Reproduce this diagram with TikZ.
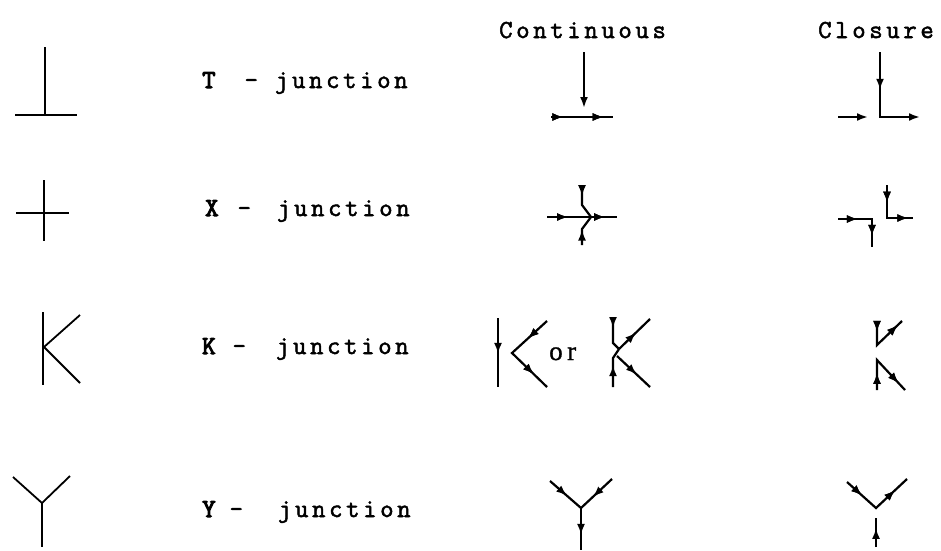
\documentclass[tikz,border=0pt]{standalone}
\usepackage{fontspec}
\usetikzlibrary{arrows.meta,decorations.markings}
\newfontfamily\labfont[LetterSpace=14,FakeBold=2]{Latin Modern Mono}
\newfontfamily\orfont[FakeBold=1]{Liberation Serif}
\newcommand{\capl}[1]{{\addfontfeature{FakeBold=4}#1}}
\begin{document}
\begin{tikzpicture}[x=1pt,y=-1pt,
  jl/.style={line width=1.8pt},
  thinl/.style={line width=1.1pt},
  al/.style={line width=2.2pt},
  ma/.style={postaction={decorate},decoration={markings,mark=at position #1 with {\arrow{Latex[length=11pt,width=8pt]}}}},
  endarr/.style={-{Latex[length=11pt,width=8pt]}},
  lab/.style={anchor=base west, inner sep=0pt, font=\labfont\fontsize{26}{26}\selectfont},
  ortext/.style={anchor=base west, inner sep=0pt, font=\orfont\fontsize{27}{27}\selectfont}
]
\useasboundingbox (0,0) rectangle (941,550);

% headings
\node[lab] (hcont) at (499,38) {Continuous};
\node[lab] (hclos) at (818,38) {Closure};

% labels
\node[lab] (lt) at (202,88) {\capl{T}\hspace{12pt} - junction};
\node[lab] (lx) at (205,216) {\capl{X}\hspace{2pt} - \hspace{9pt}junction};
\node[lab] (lk) at (202,354) {\capl{K}\hspace{0pt} - \hspace{13pt}junction};
\node[lab] (ly) at (202,517) {\capl{Y}\hspace{-3pt} - \hspace{18pt}junction};

% ---- left column: junction shapes ----
% T
\coordinate (tj) at (45,115);
\draw[jl] (45,47) -- (tj);
\draw[jl] (15,115) -- (77,115);
% X
\coordinate (xj) at (44,213);
\draw[jl] (44,180) -- (44,241);
\draw[thinl] (16,213) -- (69,213);
% K
\coordinate (kj) at (44,347);
\draw[jl] (43,312) -- (43,385);
\draw[jl] (80,315) -- (kj) -- (80,383);
% Y
\coordinate (yj) at (42,503);
\draw[jl] (13,477) -- (yj) -- (70,476);
\draw[jl] (yj) -- (42,547);

% ---- Continuous column ----
% T
\draw[al,endarr] (584,52) -- (584,108);
\draw[al,ma=0.2,ma=0.85] (551,117) -- (613,117);
% X
\coordinate (cxj) at (591,217);
\draw[al,ma=0.3,ma=0.83] (547,217) -- (617,217);
\draw[al,ma=0.32] (582,185) -- (582,205) -- (cxj);
\draw[al,ma=0.5] (582,245) -- (582,229) -- (cxj);
% K (first)
\draw[al,ma=0.52] (498,318) -- (498,387);
\draw[al,ma=0.27,ma=0.81] (547,321) -- (512,353) -- (547,387);
\node[ortext] (or) at (549,360) {o\,r};
% K (second)
\coordinate (ckj) at (619,349);
\draw[al,ma=0.3] (613,318) -- (613,343) -- (ckj);
\draw[al,ma=0.55] (613,387) -- (613,358) -- (ckj);
\draw[al,ma=0.55] (ckj) -- (650,319);
\draw[al,ma=0.6] (617,356) -- (650,387);
% Y
\coordinate (cyj) at (581,508);
\draw[al,ma=0.55] (550,481) -- (cyj);
\draw[al,ma=0.62] (612,479) -- (cyj);
\draw[al,ma=0.64] (cyj) -- (581,550);

% ---- Closure column ----
% T
\draw[al,endarr,ma=0.36] (880,52) -- (880,117) -- (920,117);
\draw[al,endarr] (838,117) -- (868,117);
% X
\draw[al,ma=0.32,ma=0.82] (838,219) -- (872,219) -- (872,247);
\draw[al,ma=0.3,ma=0.92] (887,185) -- (887,218) -- (913,218);
% K
\draw[al,ma=0.17,ma=0.9] (877,322) -- (877,345) -- (902,321);
\draw[al,ma=0.24,ma=0.87] (877,390) -- (877,360) -- (905,390);
% Y
\draw[al,ma=0.25,ma=0.8] (847,482) -- (876,508) -- (907,479);
\draw[al,ma=0.66] (876,547) -- (876,518);
\end{tikzpicture}
\end{document}
